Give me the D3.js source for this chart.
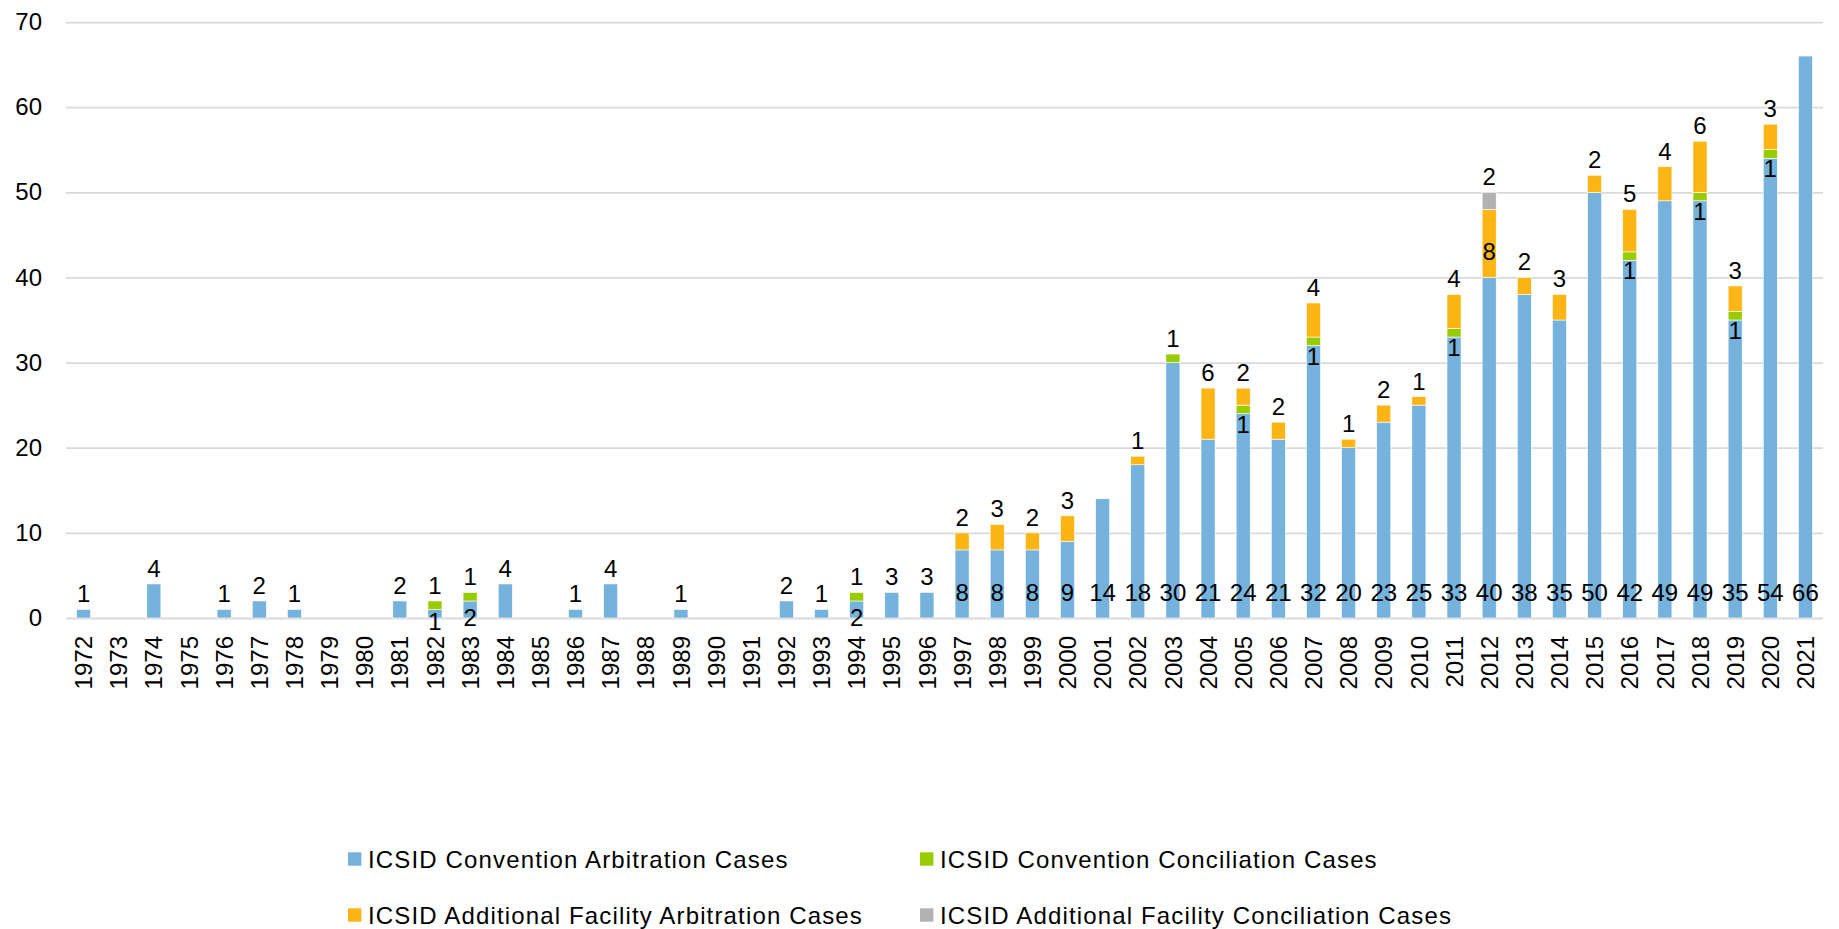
<!DOCTYPE html>
<html>
<head>
<meta charset="utf-8">
<script src="https://cdn.jsdelivr.net/npm/d3@7"></script>
<style>
  body { margin: 0; background: #fff; }
  svg text { font-family: "Liberation Sans", Arial, sans-serif; fill: #000; }
</style>
</head>
<body>
<div id="chart"></div>
<script>
// categories
const years = ["1972","1973","1974","1975","1976","1977","1978","1979","1980","1981",
  "1982","1983","1984","1985","1986","1987","1988","1989","1990","1991",
  "1992","1993","1994","1995","1996","1997","1998","1999","2000","2001",
  "2002","2003","2004","2005","2006","2007","2008","2009","2010","2011",
  "2012","2013","2014","2015","2016","2017","2018","2019","2020","2021"];

// ICSID Convention Arbitration Cases
const conventionArb = [1,0,4,0,1,2,1,0,0,2,
  1,2,4,0,1,4,0,1,0,0,
  2,1,2,3,3,8,8,8,9,14,
  18,30,21,24,21,32,20,23,25,33,
  40,38,35,50,42,49,49,35,54,66];
// ICSID Convention Conciliation Cases
const conventionCon = [0,0,0,0,0,0,0,0,0,0,
  1,1,0,0,0,0,0,0,0,0,
  0,0,1,0,0,0,0,0,0,0,
  0,1,0,1,0,1,0,0,0,1,
  0,0,0,0,1,0,1,1,1,0];
// ICSID Additional Facility Arbitration Cases
const facilityArb = [0,0,0,0,0,0,0,0,0,0,
  0,0,0,0,0,0,0,0,0,0,
  0,0,0,0,0,2,3,2,3,0,
  1,0,6,2,2,4,1,2,1,4,
  8,2,3,2,5,4,6,3,3,0];
// ICSID Additional Facility Conciliation Cases
const facilityCon = [0,0,0,0,0,0,0,0,0,0,
  0,0,0,0,0,0,0,0,0,0,
  0,0,0,0,0,0,0,0,0,0,
  0,0,0,0,0,0,0,0,0,0,
  2,0,0,0,0,0,0,0,0,0];

const yTicks = [0,10,20,30,40,50,60,70];

const seriesInfo = [
  {key: "arb", name: "ICSID Convention Arbitration Cases", color: "#75B3DC"},
  {key: "con", name: "ICSID Convention Conciliation Cases", color: "#99CC00"},
  {key: "afArb", name: "ICSID Additional Facility Arbitration Cases", color: "#FDB515"},
  {key: "afCon", name: "ICSID Additional Facility Conciliation Cases", color: "#B2B2B2"}
];

const rows = years.map(function(yr, i) {
  return {year: yr, arb: conventionArb[i], con: conventionCon[i], afArb: facilityArb[i], afCon: facilityCon[i]};
});

const width = 1839, height = 929;
const plotLeft = 66, plotRight = 1823, plotTop = 22, plotBottom = 618;

const svg = d3.select("#chart").append("svg")
  .attr("width", width)
  .attr("height", height);

const x = d3.scaleBand()
  .domain(years)
  .range([plotLeft, plotRight])
  .paddingInner(0.6)
  .paddingOuter(0.3);

const y = d3.scaleLinear()
  .domain([0, 70])
  .range([plotBottom, plotTop]);

// gridlines + y labels
const yAxis = svg.append("g")
  .attr("transform", "translate(" + plotLeft + ",0)")
  .call(d3.axisLeft(y).tickValues(yTicks).tickSize(-(plotRight - plotLeft)).tickPadding(24));
yAxis.select(".domain").remove();
yAxis.selectAll(".tick line")
  .attr("stroke", "#D9D9D9")
  .attr("stroke-width", function(d) { return d === 0 ? 2 : 1.75; });
yAxis.selectAll(".tick text")
  .attr("font-size", "24px")
  .attr("fill", "#000");

// x labels (rotated)
const xAxis = svg.append("g")
  .attr("transform", "translate(0," + plotBottom + ")")
  .call(d3.axisBottom(x).tickSize(0));
xAxis.select(".domain").remove();
xAxis.selectAll(".tick text")
  .attr("font-size", "24px")
  .attr("fill", "#000")
  .attr("text-anchor", "end")
  .attr("transform", "rotate(-90)")
  .attr("x", -18)
  .attr("y", 0)
  .attr("dy", "0.36em");

// stacked bars
const stacked = d3.stack().keys(seriesInfo.map(function(s) { return s.key; }))(rows);

svg.append("g").selectAll("g")
  .data(stacked)
  .enter()
  .append("g")
  .attr("fill", function(s, i) { return seriesInfo[i].color; })
  .selectAll("rect")
  .data(function(s) { return s.filter(function(d) { return d[1] - d[0] > 0; }); })
  .enter()
  .append("rect")
  .attr("x", function(d) { return x(d.data.year); })
  .attr("width", x.bandwidth())
  .attr("y", function(d) { return y(d[1]); })
  .attr("height", function(d) { return y(d[0]) - y(d[1]); })
  .attr("stroke", "#fff")
  .attr("stroke-width", 0.6);

// data labels
const labels = [];
stacked.forEach(function(s) {
  s.forEach(function(d) {
    const v = d[1] - d[0];
    if (v <= 0) return;
    const row = d.data;
    // top segment of this year's stack
    let topKey = null;
    seriesInfo.forEach(function(si) { if (row[si.key] > 0) topKey = si.key; });
    let base;
    if (s.key === "arb" && v >= 8) {
      base = y(0) - 17.5;                       // inside base
    } else if (s.key === topKey) {
      base = y(d[1]) - 7;                       // above the stack
    } else if (s.key === "con") {
      base = y(d[0]) + 19;                      // just under the thin segment
    } else {
      base = y((d[0] + d[1]) / 2) + 8 + 8.6;    // centred, nudged down
    }
    labels.push({text: v, cx: x(row.year) + x.bandwidth() / 2, by: base});
  });
});

svg.append("g").selectAll("text")
  .data(labels)
  .enter()
  .append("text")
  .attr("x", function(d) { return d.cx; })
  .attr("y", function(d) { return d.by; })
  .attr("text-anchor", "middle")
  .attr("font-size", "24px")
  .text(function(d) { return d.text; });

// legend
const legendCols = [348, 920];
const legendRows = [859, 915];
const legend = svg.append("g");
seriesInfo.forEach(function(s, i) {
  const lx = legendCols[i % 2];
  const ly = legendRows[Math.floor(i / 2)];
  legend.append("rect")
    .attr("x", lx)
    .attr("y", ly - 6.7)
    .attr("width", 13.4)
    .attr("height", 13.4)
    .attr("fill", s.color);
  legend.append("text")
    .attr("x", lx + 20)
    .attr("y", ly + 8.5)
    .attr("font-size", "24px")
    .attr("letter-spacing", "1.15px")
    .text(s.name);
});
</script>
</body>
</html>
